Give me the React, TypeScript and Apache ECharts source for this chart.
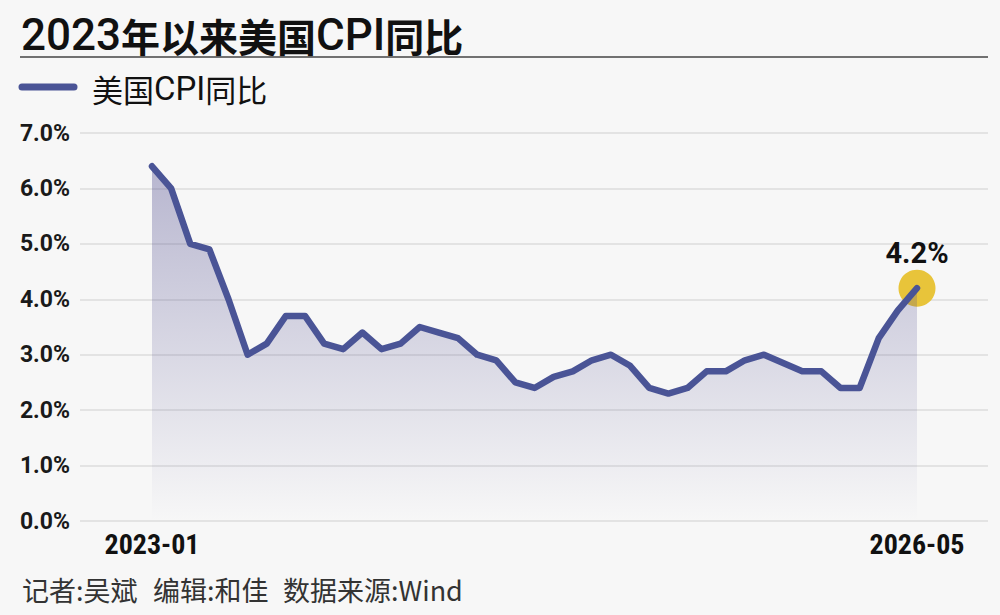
import React, { useEffect, useRef } from "react";
import * as echarts from "echarts";

const months: string[] = [
  "2023-01", "2023-02", "2023-03", "2023-04", "2023-05", "2023-06", "2023-07", "2023-08", "2023-09", "2023-10", "2023-11", "2023-12",
  "2024-01", "2024-02", "2024-03", "2024-04", "2024-05", "2024-06", "2024-07", "2024-08", "2024-09", "2024-10", "2024-11", "2024-12",
  "2025-01", "2025-02", "2025-03", "2025-04", "2025-05", "2025-06", "2025-07", "2025-08", "2025-09", "2025-10", "2025-11", "2025-12",
  "2026-01", "2026-02", "2026-03", "2026-04", "2026-05",
];

const cpiYoY: number[] = [
  6.4, 6.0, 5.0, 4.9, 4.0, 3.0, 3.2, 3.7, 3.7, 3.2, 3.1, 3.4,
  3.1, 3.2, 3.5, 3.4, 3.3, 3.0, 2.9, 2.5, 2.4, 2.6, 2.7, 2.9,
  3.0, 2.8, 2.4, 2.3, 2.4, 2.7, 2.7, 2.9, 3.0, 2.85, 2.7, 2.7,
  2.4, 2.4, 3.3, 3.8, 4.2,
];

const yTicks = { min: 0, max: 7, interval: 1 };

const titleText = "2023年以来美国CPI同比";
const seriesName = "美国CPI同比";
const footerParts: string[] = ["记者:吴斌", "编辑:和佳", "数据来源:Wind"];

const LINE_COLOR = "#4a5496";
const BG = "#f7f7f7";

export default function App() {
  const ref = useRef<HTMLDivElement>(null);

  useEffect(() => {
    document.body.style.margin = "0";
    const chart = echarts.init(ref.current!, null, { renderer: "svg" });
    const last = months.length - 1;
    const footerX = [22, 153, 283];
    chart.setOption({
      animation: false,
      backgroundColor: BG,
      grid: [
        { left: 80, right: 12, top: 133, bottom: 94 },
        { left: 152, right: 83, top: 133, bottom: 94 },
      ],
      xAxis: [
        { gridIndex: 0, type: "value", show: false, min: 0, max: 1 },
        {
          gridIndex: 1,
          type: "category",
          data: months,
          boundaryGap: false,
          axisLine: { show: false },
          axisTick: { show: false },
          splitLine: { show: false },
          axisLabel: {
            interval: (i: number) => i === 0 || i === last,
            showMinLabel: true,
            showMaxLabel: true,
            hideOverlap: false,
            margin: 9,
            fontFamily: "'Liberation Sans Narrow', 'Roboto Condensed', Roboto, sans-serif",
            fontWeight: "bold",
            fontSize: 28,
            color: "#111",
          },
        },
      ],
      yAxis: [
        {
          gridIndex: 0,
          type: "value",
          min: yTicks.min,
          max: yTicks.max,
          interval: yTicks.interval,
          axisLine: { show: false },
          axisTick: { show: false },
          axisLabel: {
            formatter: (v: number) => v.toFixed(1) + "%",
            fontFamily: "Roboto, sans-serif",
            fontWeight: "bold",
            fontSize: 23,
            color: "#1a1a1a",
            margin: 10,
          },
          splitLine: { lineStyle: { color: "#dddddd", width: 1.5 } },
        },
        {
          gridIndex: 1,
          type: "value",
          min: yTicks.min,
          max: yTicks.max,
          interval: yTicks.interval,
          show: false,
          splitLine: { show: false },
        },
      ],
      series: [
        {
          type: "scatter",
          name: "marker",
          xAxisIndex: 1,
          yAxisIndex: 1,
          z: 1,
          symbolSize: 37,
          itemStyle: { color: "#e8c43a", opacity: 1 },
          data: [[months[last], cpiYoY[last]]],
          label: {
            show: true,
            position: "top",
            distance: 2,
            formatter: (p: any) => p.value[1].toFixed(1) + "%",
            fontFamily: "Roboto, sans-serif",
            fontWeight: "bold",
            fontSize: 29,
            color: "#111",
          },
        },
        {
          type: "line",
          name: seriesName,
          xAxisIndex: 1,
          yAxisIndex: 1,
          z: 3,
          data: cpiYoY,
          symbol: "none",
          lineStyle: { color: LINE_COLOR, width: 6.5, cap: "round", join: "round" },
          areaStyle: {
            color: new echarts.graphic.LinearGradient(0, 0, 0, 1, [
              { offset: 0, color: "rgba(76,72,140,0.53)" },
              { offset: 1, color: "rgba(76,72,140,0)" },
            ]),
          },
        },
      ],
      graphic: [
        {
          type: "text",
          x: 21,
          y: 35,
          style: {
            text: "{a|2023}{b|年以来美国}{a|CPI}{b|同比}",
            verticalAlign: "middle",
            fill: "#111",
            rich: {
              a: { fontFamily: "Roboto", fontSize: 44, fontWeight: 500, fill: "#111" },
              b: { fontFamily: "'Noto Sans CJK SC'", fontSize: 39, fontWeight: "bold", fill: "#111" },
            },
          },
        },
        {
          type: "line",
          shape: { x1: 20, y1: 57, x2: 988, y2: 57 },
          style: { stroke: "#444", lineWidth: 1.5 },
        },
        {
          type: "line",
          shape: { x1: 22, y1: 87, x2: 74, y2: 87 },
          style: { stroke: LINE_COLOR, lineWidth: 7, lineCap: "round" },
        },
        {
          type: "text",
          x: 92,
          y: 88,
          style: {
            text: "{c|美国}{l|CPI}{c|同比}",
            verticalAlign: "middle",
            fill: "#111",
            rich: {
              c: { fontFamily: "'Noto Sans CJK SC'", fontSize: 31, fill: "#111" },
              l: { fontFamily: "Roboto", fontSize: 33, fill: "#111" },
            },
          },
        },
        ...footerParts.map((t, i) => ({
          type: "text",
          x: footerX[i],
          y: 589,
          style: {
            text: t,
            verticalAlign: "middle",
            fontFamily: "'Noto Sans CJK SC'",
            fontSize: 27,
            fill: "#333",
          },
        })),
      ],
    });
    return () => chart.dispose();
  }, []);

  return (
    <div
      ref={ref}
      style={{ position: "absolute", left: 0, top: 0, width: 1000, height: 615, background: BG }}
      title={titleText}
    />
  );
}
